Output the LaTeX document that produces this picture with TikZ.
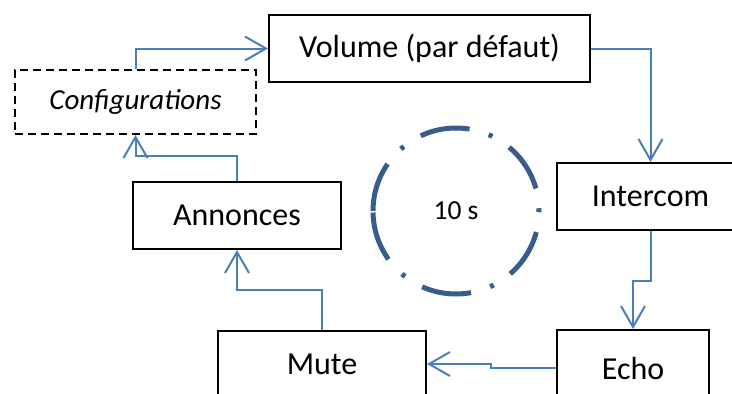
\documentclass[tikz,border=0pt]{standalone}
\usepackage{fontspec}
\setmainfont{Carlito}
\usetikzlibrary{arrows.meta}

\definecolor{flowblue}{HTML}{4A7EBB}
\definecolor{ringblue}{HTML}{385D8A}

\tikzset{
  modebox/.style={draw, line width=2pt, minimum height=67pt, inner sep=0pt,
    font=\fontsize{32}{38}\selectfont},
  flow/.style={draw=flowblue, line width=2pt,
    -{Straight Barb[length=21pt,width=24pt]}},
  ring/.style={draw=ringblue, line width=5pt,
    dash pattern=on 50pt off 20pt on 4pt off 20pt}
}

\begin{document}
\begin{tikzpicture}[x=1pt,y=-1pt]
  \useasboundingbox (0,0) rectangle (732,394);

      \begin{scope}[every node/.style={modebox}]
        \node[minimum width=321pt] (vol)   at (429.5,48.5) {Volume (par défaut)};
        \node[minimum width=187pt] (inter) at (650.5,196.5) {Intercom};
        \node[minimum width=152pt, minimum height=76pt] (echo) at (633,368) {Echo};
        \node[minimum width=208pt, minimum height=66pt] (mute) at (322,364) {Mute};
        \node[minimum width=208pt] (ann)   at (237,215.5) {Annonces};
        \node[minimum width=241pt, minimum height=64pt, dash pattern=on 8pt off 5pt,
          font=\fontsize{29}{35}\selectfont\itshape] (conf) at (135.5,102) {Configurations};
      \end{scope}

      \node[font=\fontsize{27.5}{33}\selectfont] (timer) at (456,211) {10 s};
      \draw[ring] (timer.center) ++(180:83pt) arc[start angle=180, end angle=-180, radius=83pt];

      \begin{scope}[every path/.style={flow}]
        \draw (conf.north) |- (vol.west);
        \draw (vol.east) -| (inter.north);
        \draw (inter.south) -- ++(0,50) -| (echo.north);
        \draw (echo.west) -- ++(-65,0) |- (mute.east);
        \draw (mute.north) -- ++(0,-40) -| (ann.south);
        \draw (ann.north) -- ++(0,-25) -| (conf.south);
      \end{scope}

\end{tikzpicture}
\end{document}
